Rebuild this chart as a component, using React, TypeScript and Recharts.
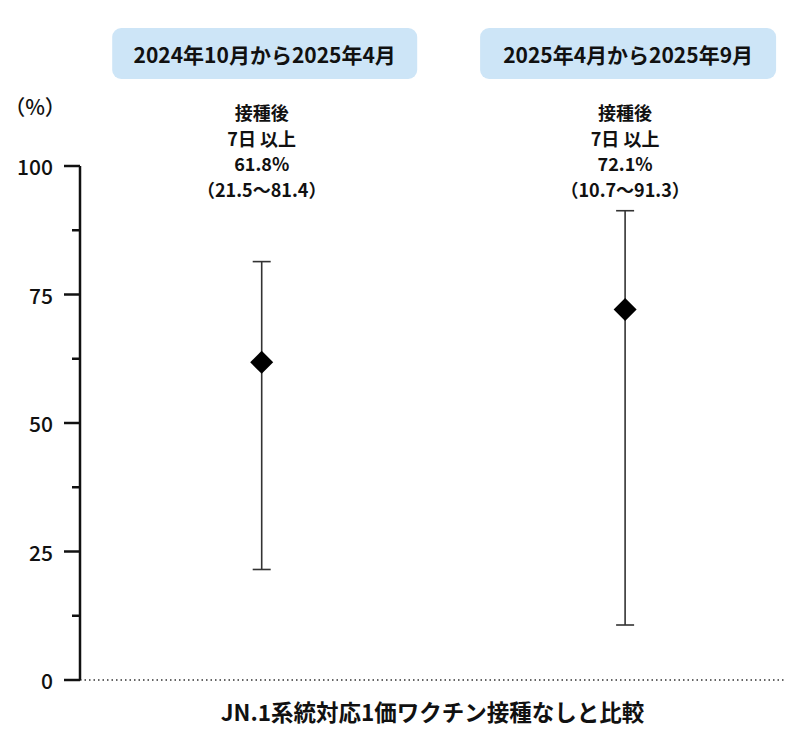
import { ScatterChart, Scatter, XAxis, YAxis, ErrorBar, ReferenceLine, Label } from "recharts";

const periods = ["2024年10月から2025年4月", "2025年4月から2025年9月"];
const effectiveness = [61.8, 72.1];
const ciLow = [21.5, 10.7];
const ciHigh = [81.4, 91.3];
const noteLines = ["接種後", "7日 以上"];
const yTicks = [0, 12.5, 25, 37.5, 50, 62.5, 75, 87.5, 100];
const xLabel = "JN.1系統対応1価ワクチン接種なしと比較";
const unitLabel = "（%）";

const FONT = '"Noto Sans CJK JP", "Noto Sans", sans-serif';
const INK = "#111";
const headerWidths = [305, 296];

const data = periods.map((period, i) => ({
  x: i + 1,
  period,
  ve: effectiveness[i],
  err: [effectiveness[i] - ciLow[i], ciHigh[i] - effectiveness[i]],
}));

const YTick = (props: any) => {
  const { x, y, payload } = props;
  const major = payload.value % 25 === 0;
  return (
    <g>
      <line x1={x - (major ? 16 : 8)} x2={x} y1={y} y2={y} stroke={INK} strokeWidth={2.5} />
      {major && (
        <text x={x - 27} y={y} textAnchor="end" dominantBaseline="central" fontSize={21} fontWeight={500} fill={INK} fontFamily={FONT}>
          {payload.value}
        </text>
      )}
    </g>
  );
};

const HeaderTick = (props: any) => {
  const { x, y, payload } = props;
  const i = payload.value - 1;
  const d = data[i];
  if (!d) return null;
  const w = headerWidths[i];
  const cx = x + 3;
  const lines = [...noteLines, `${d.ve}%`, `（${ciLow[i]}～${ciHigh[i]}）`];
  return (
    <g fontFamily={FONT} fill={INK}>
      <rect x={cx - w / 2} y={y - 138} width={w} height={51} rx={9} fill="#cde5f7" />
      <text x={cx} y={y - 112} textAnchor="middle" dominantBaseline="central" fontSize={21} fontWeight={700}>
        {d.period}
      </text>
      {lines.map((t, k) => (
        <text key={k} x={x} y={y - 54 + k * 25.5} textAnchor="middle" dominantBaseline="central" fontSize={18} fontWeight={600}>
          {t}
        </text>
      ))}
    </g>
  );
};

const Diamond = (props: any) => {
  const { cx, cy } = props;
  const r = 11.5;
  return <polygon points={`${cx},${cy - r} ${cx + r},${cy} ${cx},${cy + r} ${cx - r},${cy}`} fill="#000" />;
};

const UnitLabel = (props: any) => {
  const vb = props.viewBox || {};
  return (
    <text x={35} y={(vb.y ?? 166) - 60} textAnchor="middle" dominantBaseline="central" fontSize={21} fontWeight={500} fill={INK} fontFamily={FONT}>
      {unitLabel}
    </text>
  );
};

export default function App() {
  return (
    <div style={{ position: "absolute", left: 0, top: 0, width: 800, height: 747, background: "#fff", fontFamily: FONT }}>
      <ScatterChart width={800} height={747} margin={{ top: 0, right: 15, bottom: 0, left: 0 }}>
        <XAxis
          xAxisId="top"
          orientation="top"
          type="number"
          dataKey="x"
          domain={[0.5, 2.44]}
          ticks={[1, 2]}
          interval={0}
          height={166}
          tickSize={0}
          tickMargin={0}
          axisLine={false}
          tickLine={false}
          tick={<HeaderTick />}
        />
        <XAxis
          xAxisId="bottom"
          orientation="bottom"
          type="number"
          dataKey="x"
          domain={[0.5, 2.44]}
          height={67}
          tick={false}
          axisLine={false}
          tickLine={false}
        >
          <Label value={xLabel} position="center" fontSize={22.5} fontWeight={600} fill={INK} fontFamily={FONT} />
        </XAxis>
        <YAxis
          type="number"
          dataKey="ve"
          domain={[0, 100]}
          ticks={yTicks}
          interval={0}
          width={80}
          tickSize={0}
          tickMargin={0}
          tickLine={false}
          axisLine={{ stroke: INK, strokeWidth: 2.5 }}
          tick={<YTick />}
        >
          <Label content={<UnitLabel />} />
        </YAxis>
        <ReferenceLine xAxisId="top" y={0} stroke="#333" strokeWidth={1.5} strokeDasharray="1.5 3" />
        <Scatter xAxisId="top" data={data} dataKey="ve" shape={<Diamond />} isAnimationActive={false}>
          <ErrorBar dataKey="err" direction="y" width={9} stroke="#333" strokeWidth={1.6} isAnimationActive={false} />
        </Scatter>
      </ScatterChart>
    </div>
  );
}
